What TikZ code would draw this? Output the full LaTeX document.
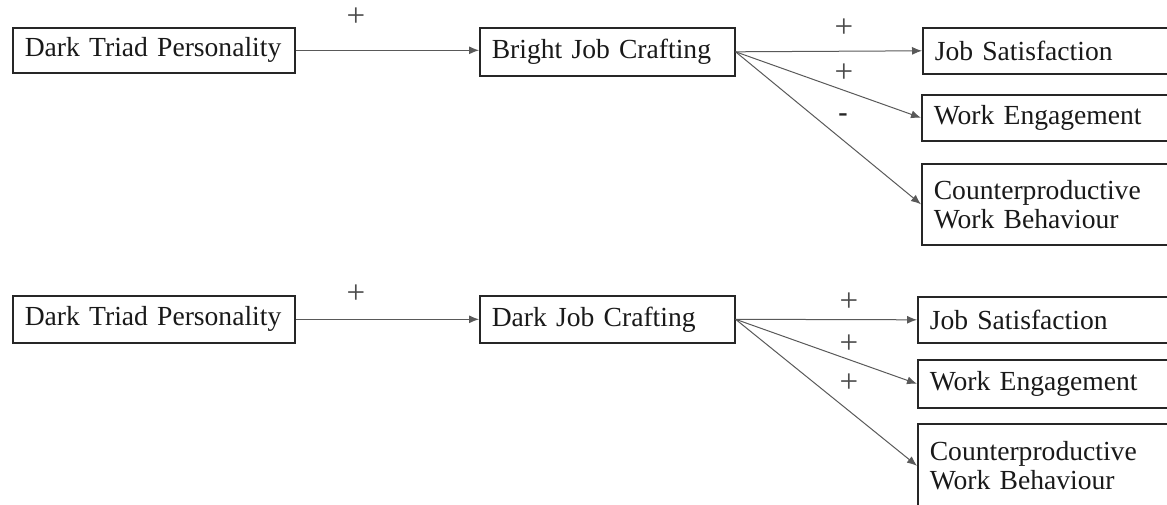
\documentclass[tikz,border=0pt]{standalone}
\usepackage{fontspec}
\setmainfont{Liberation Serif}[WordSpace=0.85]
\usetikzlibrary{arrows.meta}
\begin{document}
\begin{tikzpicture}[x=1pt,y=-1pt,
  box/.style={draw=black!85, line width=1.6pt, anchor=north west, inner xsep=12pt, inner ysep=0pt, align=left, font=\fontsize{27.6}{29}\selectfont, text=black!90},
  conn/.style={draw=black!65, line width=1pt, -{Latex[length=10pt,width=8pt]}},
  sign/.style={font=\fontsize{33}{34}\selectfont, text=black!70, inner sep=0pt}
]
\useasboundingbox (0,0) rectangle (1167,504);
\clip (0,0) rectangle (1167,504);
% top model
\node[box, text width=258pt, minimum height=45pt] (dt1) at (12,27) {Dark Triad Personality};
\node[box, text width=231pt, minimum height=48pt] (bjc) at (479,27) {Bright Job Crafting};
\node[box, text width=280pt, minimum height=46pt] (js1) at (922,27) {Job Satisfaction};
\node[box, text width=280pt, minimum height=46pt] (we1) at (921,94) {Work Engagement};
\node[box, text width=280pt, minimum height=81pt] (cwb1) at (921,163) {Counterproductive\\Work Behaviour};
\draw[conn] (dt1.east) -- (dt1.east -| bjc.west);
\draw[conn] (bjc.east) -- (js1.west);
\draw[conn] (bjc.east) -- (we1.west);
\draw[conn] (bjc.east) -- (cwb1.west);
\node[sign] (s1) at (356,17) {+};
\node[sign] (s2) at (844,28) {+};
\node[sign] (s3) at (844,73) {+};
\node[sign, font=\fontsize{28}{28}\selectfont\bfseries, text=black!85] (s4) at (843,118) {-};
% bottom model
\node[box, text width=258pt, minimum height=47pt] (dt2) at (12,295) {Dark Triad Personality};
\node[box, text width=231pt, minimum height=47pt] (djc) at (479,295) {Dark Job Crafting};
\node[box, text width=280pt, minimum height=46pt] (js2) at (917,296) {Job Satisfaction};
\node[box, text width=280pt, minimum height=48pt] (we2) at (917,359) {Work Engagement};
\node[box, text width=280pt, minimum height=84pt] (cwb2) at (917,423) {Counterproductive\\Work Behaviour};
\draw[conn] (djc.west -| dt2.east) -- (djc.west);
\draw[conn] (djc.east) -- (js2.west);
\draw[conn] (djc.east) -- (we2.west);
\draw[conn] (djc.east) -- (cwb2.west);
\node[sign] (t1) at (356,294) {+};
\node[sign] (t2) at (849,302) {+};
\node[sign] (t3) at (849,344) {+};
\node[sign] (t4) at (849,383) {+};
\end{tikzpicture}
\end{document}
